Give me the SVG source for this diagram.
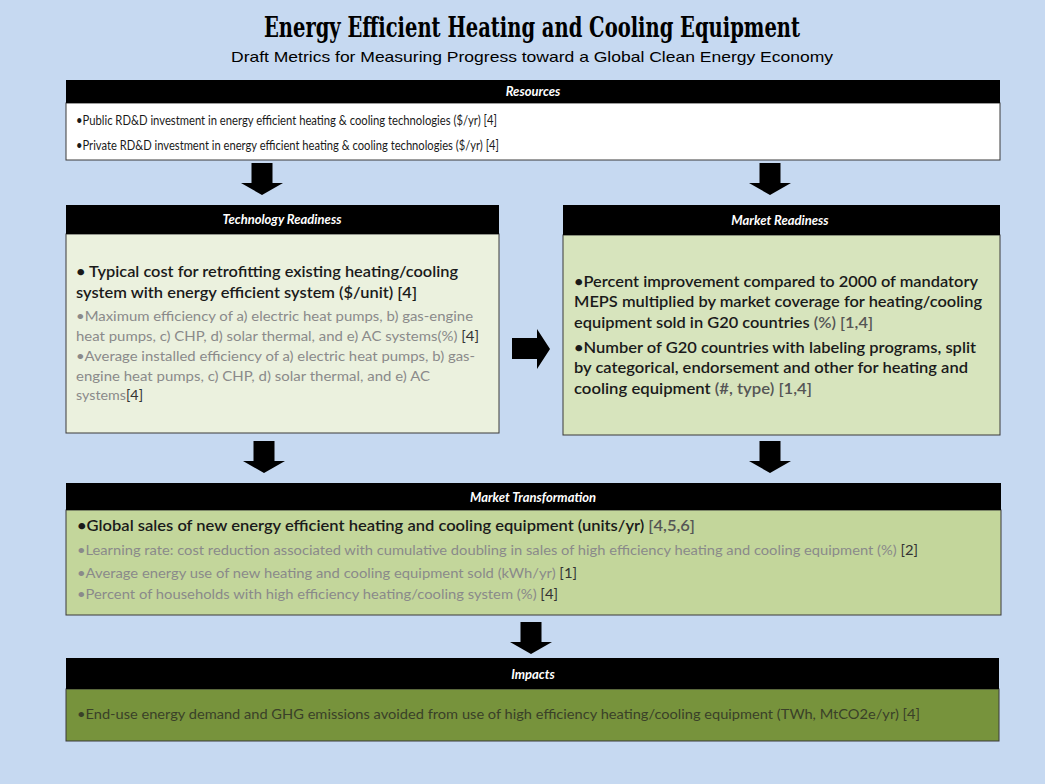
<svg xmlns="http://www.w3.org/2000/svg" width="1045" height="784" viewBox="0 0 1045 784">
<style>
.bg{fill:#c6d9f1}
.hdr{fill:#000}
.box{stroke:#3a3a3a;stroke-width:1}
.ht{font-family:Lato,"Liberation Sans",sans-serif;font-weight:bold;font-style:italic;font-size:13px;fill:#fff;text-anchor:middle}
.t{font-family:Lato,"Liberation Sans",sans-serif;font-size:13.5px;fill:#1a1a1a}
.tb{font-family:Lato,"Liberation Sans",sans-serif;font-size:15px;font-weight:600;fill:#1a1a1a}
.g{font-family:Lato,"Liberation Sans",sans-serif;font-size:13.5px;fill:#8a8a8a}
.gi{font-family:Lato,"Liberation Sans",sans-serif;font-size:13.5px;fill:#3a4128}
.d{fill:#333}
.arr{fill:#000}
</style>
<defs>
<path id="down" d="M-10.5,0 H10.5 V20 H21 L0,32 L-21,20 H-10.5 Z"/>
</defs>
<rect class="bg" x="0" y="0" width="1045" height="784"/>
<g id="title">
<text x="532" y="37" font-family="'DejaVu Serif Condensed','DejaVu Serif','Liberation Serif',serif" font-weight="bold" font-size="27" text-anchor="middle" textLength="536" lengthAdjust="spacingAndGlyphs">Energy Efficient Heating and Cooling Equipment</text>
<text x="532" y="62" font-family="'Liberation Sans',Arial,sans-serif" font-size="15" text-anchor="middle" textLength="602" lengthAdjust="spacingAndGlyphs">Draft Metrics for Measuring Progress toward a Global Clean Energy Economy</text>
</g>
<g id="resources">
<rect class="box" x="66" y="103" width="934" height="57" fill="#fff"/>
<rect class="hdr" x="66" y="80" width="934" height="23"/>
<text class="ht" x="533" y="96">Resources</text>
<text class="t" x="76" y="125" textLength="421" lengthAdjust="spacingAndGlyphs">•Public RD&amp;D investment in energy efficient heating &amp; cooling technologies ($/yr) [4]</text>
<text class="t" x="76" y="150" textLength="423" lengthAdjust="spacingAndGlyphs">•Private RD&amp;D investment in energy efficient heating &amp; cooling technologies ($/yr) [4]</text>
</g>
<g id="technology-readiness">
<rect class="box" x="66" y="234" width="433" height="199" fill="#ebf1de"/>
<rect class="hdr" x="66" y="205" width="433" height="29"/>
<text class="ht" x="282" y="224">Technology Readiness</text>
<text class="tb" x="76" y="277" textLength="382" lengthAdjust="spacingAndGlyphs">• Typical cost for retrofitting existing heating/cooling</text>
<text class="tb" x="76" y="298" textLength="341" lengthAdjust="spacingAndGlyphs">system with energy efficient system ($/unit) [4]</text>
<text class="g" x="76" y="321" textLength="397" lengthAdjust="spacingAndGlyphs">•Maximum efficiency of a) electric heat pumps, b) gas-engine</text>
<text class="g" x="76" y="341" textLength="403" lengthAdjust="spacingAndGlyphs">heat pumps, c) CHP, d) solar thermal, and e) AC systems(%) <tspan class="d">[4]</tspan></text>
<text class="g" x="76" y="361" textLength="399" lengthAdjust="spacingAndGlyphs">•Average installed efficiency of a) electric heat pumps, b) gas-</text>
<text class="g" x="76" y="381" textLength="354" lengthAdjust="spacingAndGlyphs">engine heat pumps, c) CHP, d) solar thermal, and e) AC</text>
<text class="g" x="76" y="400" textLength="67" lengthAdjust="spacingAndGlyphs">systems<tspan class="d">[4]</tspan></text>
</g>
<g id="market-readiness">
<rect class="box" x="563" y="235" width="437" height="200" fill="#d7e4bd"/>
<rect class="hdr" x="563" y="205" width="437" height="30"/>
<text class="ht" x="780" y="225">Market Readiness</text>
<text class="tb" x="574" y="287" textLength="404" lengthAdjust="spacingAndGlyphs">•Percent improvement compared to 2000 of mandatory</text>
<text class="tb" x="574" y="307" textLength="408" lengthAdjust="spacingAndGlyphs">MEPS multiplied by market coverage for heating/cooling</text>
<text class="tb" x="574" y="328" textLength="299" lengthAdjust="spacingAndGlyphs">equipment sold in G20 countries <tspan style="fill:#555">(%) [1,4]</tspan></text>
<text class="tb" x="574" y="353" textLength="402" lengthAdjust="spacingAndGlyphs">•Number of G20 countries with labeling programs, split</text>
<text class="tb" x="574" y="373" textLength="394" lengthAdjust="spacingAndGlyphs">by categorical, endorsement and other for heating and</text>
<text class="tb" x="574" y="394" textLength="238" lengthAdjust="spacingAndGlyphs">cooling equipment <tspan style="fill:#555">(#, type) [1,4]</tspan></text>
</g>
<g id="market-transformation">
<rect class="box" x="66" y="510" width="935" height="105" fill="#c3d69b"/>
<rect class="hdr" x="66" y="483" width="935" height="27"/>
<text class="ht" x="533" y="502">Market Transformation</text>
<text class="tb" x="77" y="531" style="font-size:14.5px" textLength="618" lengthAdjust="spacingAndGlyphs">•Global sales of new energy efficient heating and cooling equipment (units/yr) <tspan style="fill:#555">[4,5,6]</tspan></text>
<text class="g" x="77" y="555" textLength="841" lengthAdjust="spacingAndGlyphs">•Learning rate: cost reduction associated with cumulative doubling in sales of high efficiency heating and cooling equipment (%) <tspan class="d">[2]</tspan></text>
<text class="g" x="77" y="578" textLength="500" lengthAdjust="spacingAndGlyphs">•Average energy use of new heating and cooling equipment sold (kWh/yr) <tspan class="d">[1]</tspan></text>
<text class="g" x="77" y="599" textLength="481" lengthAdjust="spacingAndGlyphs">•Percent of households with high efficiency heating/cooling system (%) <tspan class="d">[4]</tspan></text>
</g>
<g id="impacts">
<rect class="box" x="66" y="689" width="933" height="52" fill="#77933c"/>
<rect class="hdr" x="66" y="658" width="933" height="31"/>
<text class="ht" x="533" y="679">Impacts</text>
<text class="gi" x="77" y="719" textLength="843" lengthAdjust="spacingAndGlyphs">•End-use energy demand and GHG emissions avoided from use of high efficiency heating/cooling equipment (TWh, MtCO2e/yr) [4]</text>
</g>
<g id="connectors">
<use href="#down" class="arr" x="262" y="163"/>
<use href="#down" class="arr" x="770" y="163"/>
<use href="#down" class="arr" x="264" y="441"/>
<use href="#down" class="arr" x="770" y="441"/>
<use href="#down" class="arr" x="531" y="622"/>
<path class="arr" d="M512,338 H537 V329 L550,349 L537,369 V359 H512 Z"/>
</g>
</svg>
